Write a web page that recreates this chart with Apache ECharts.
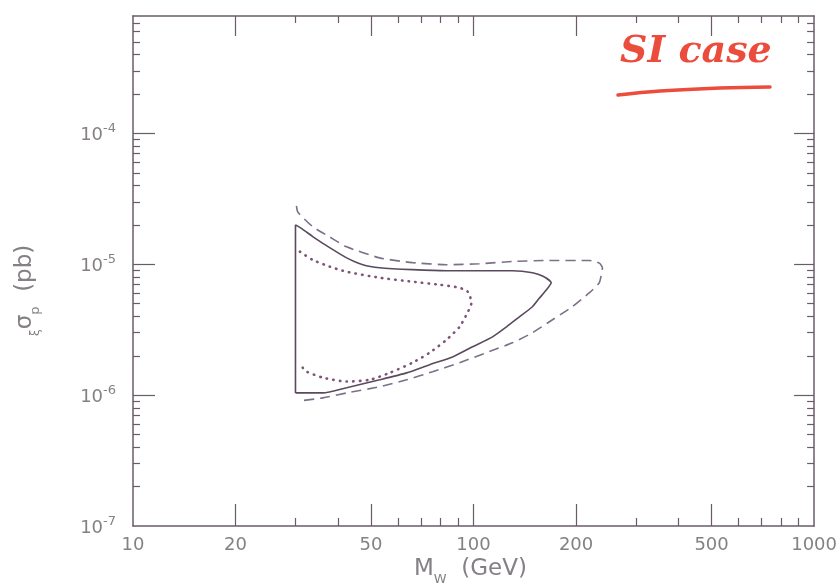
<!DOCTYPE html>
<html>
<head>
<meta charset="utf-8">
<script src="https://cdn.jsdelivr.net/npm/echarts@6/dist/echarts.min.js"></script>
<style>
  html, body { margin: 0; padding: 0; background: #fff; }
  #chart { width: 840px; height: 586px; }
</style>
</head>
<body>
<div id="chart"></div>
<script>
// tick positions
var xLabels = [10, 20, 50, 100, 200, 500, 1000];
var xMajor = [20, 50, 100, 200, 500];
var xMinor = [30, 40, 60, 70, 80, 90, 300, 400, 600, 700, 800, 900];
var yLabels = [1e-7, 1e-6, 1e-5, 1e-4];
var yMajor = [1e-6, 1e-5, 1e-4];
var yMinor = [2e-7, 3e-7, 4e-7, 5e-7, 6e-7, 7e-7, 8e-7, 9e-7,
              2e-6, 3e-6, 4e-6, 5e-6, 6e-6, 7e-6, 8e-6, 9e-6,
              2e-5, 3e-5, 4e-5, 5e-5, 6e-5, 7e-5, 8e-5, 9e-5,
              2e-4, 3e-4, 4e-4, 5e-4, 6e-4, 7e-4];

// contours  [M (GeV), sigma (pb)]
var solidCurve = [
    [30, 1.04e-6], [30, 2.0e-5], [31.5, 1.85e-5], [33.7, 1.63e-5], [37.8, 1.34e-5],
    [42.4, 1.12e-5], [47.3, 9.93e-6], [53, 9.42e-6], [66.2, 9.1e-6], [83.3, 8.93e-6],
    [104, 8.93e-6], [130, 8.93e-6], [149, 8.63e-6], [160, 8.1e-6], [169, 7.23e-6],
    [163.7, 6.39e-6], [156, 5.5e-6], [148.9, 4.74e-6], [136.4, 3.97e-6], [125, 3.33e-6],
    [113.7, 2.79e-6], [99.3, 2.34e-6], [86.8, 1.96e-6], [74.3, 1.71e-6], [63.6, 1.48e-6],
    [53, 1.31e-6], [42.4, 1.14e-6], [36.1, 1.04e-6], [30.9, 1.04e-6], [30, 1.04e-6]
];
var dashedCurve = [
    [30.2, 2.8e-5], [30.5, 2.5e-5], [33.7, 1.94e-5], [37.8, 1.62e-5], [42.4, 1.36e-5],
    [53, 1.12e-5], [66.2, 1.03e-5], [83.3, 9.93e-6], [104, 1.01e-5], [130, 1.05e-5],
    [164, 1.07e-5], [219, 1.07e-5], [234, 1.02e-5], [239, 9.42e-6], [237, 8.2e-6],
    [234, 7.23e-6], [219, 6.07e-6], [195, 4.74e-6], [170.5, 3.77e-6], [149, 3.0e-6],
    [130, 2.51e-6], [109, 2.11e-6], [91, 1.77e-6], [75.8, 1.51e-6], [63.6, 1.31e-6],
    [53, 1.16e-6], [42.4, 1.04e-6], [36.1, 9.53e-7], [30.9, 9.04e-7]
];
var dottedCurve = [
    [30.9, 1.25e-5], [33.7, 1.08e-5], [37.8, 9.6e-6], [42.4, 8.77e-6], [53, 7.89e-6],
    [66.2, 7.36e-6], [79.5, 6.98e-6], [91, 6.62e-6], [96, 6.2e-6], [97.3, 5.85e-6],
    [98.6, 5.08e-6], [96, 4.27e-6], [91, 3.33e-6], [83.3, 2.65e-6], [74.3, 2.11e-6],
    [66.2, 1.77e-6], [56.7, 1.48e-6], [49.5, 1.31e-6], [42.4, 1.27e-6], [36.1, 1.36e-6],
    [32.4, 1.51e-6], [31.5, 1.62e-6]
];

var axisColor = '#6b5b68';
var textColor = '#858085';
var fontFam = '"DejaVu Sans", sans-serif';

function supLabel(v) {
    var e = Math.round(Math.log(v) / Math.LN10);
    return '{b|10}{s|' + e + '}';
}

// one axis per tick set, so major and minor ticks get different lengths
function xAx(pos, ticks, len, showLine, labels) {
    return {
        type: 'log', logBase: 10, min: 10, max: 1000, position: pos,
        gridIndex: 0,
        axisLine: { show: showLine, onZero: false, lineStyle: { color: axisColor, width: 1.5 } },
        axisTick: { show: true, inside: true, length: len, customValues: ticks,
                    lineStyle: { color: axisColor, width: 1.2 } },
        axisLabel: labels ? {
            show: true, customValues: labels, margin: 10,
            formatter: function (v) { return String(Math.round(v)); },
            color: textColor, fontSize: 18, fontFamily: fontFam
        } : { show: false },
        splitLine: { show: false }, minorTick: { show: false }
    };
}
function yAx(pos, ticks, len, showLine, labels) {
    return {
        type: 'log', logBase: 10, min: 1e-7, max: 7.9e-4, position: pos,
        gridIndex: 0,
        axisLine: { show: showLine, onZero: false, lineStyle: { color: axisColor, width: 1.5 } },
        axisTick: { show: true, inside: true, length: len, customValues: ticks,
                    lineStyle: { color: axisColor, width: 1.2 } },
        axisLabel: labels ? {
            show: true, customValues: labels, margin: 17,
            formatter: supLabel,
            rich: {
                b: { color: textColor, fontSize: 18, fontFamily: fontFam, lineHeight: 22, verticalAlign: 'bottom' },
                s: { color: textColor, fontSize: 13, fontFamily: fontFam, lineHeight: 22, verticalAlign: 'top' }
            }
        } : { show: false },
        splitLine: { show: false }, minorTick: { show: false }
    };
}

var chart = echarts.init(document.getElementById('chart'), null, { renderer: 'canvas' });

var option = {
    backgroundColor: '#ffffff',
    animation: false,
    grid: { left: 133, right: 25, top: 16, bottom: 60, containLabel: false },
    xAxis: [
        xAx('bottom', xMajor, 22, true, xLabels),
        xAx('bottom', xMinor, 8, false, null),
        xAx('top', xMajor, 20, true, null),
        xAx('top', xMinor, 7, false, null)
    ],
    yAxis: [
        yAx('left', yMajor, 22, true, yLabels),
        yAx('left', yMinor, 7, false, null),
        yAx('right', yMajor, 20, true, null),
        yAx('right', yMinor, 7, false, null)
    ],
    graphic: [
        {
            type: 'text', left: 414, top: 558,
            style: {
                text: '{m|M}{w|W}{m|  (GeV)}',
                rich: {
                    m: { fontSize: 23, fontFamily: fontFam, fill: textColor, lineHeight: 28, verticalAlign: 'top' },
                    w: { fontSize: 13, fontFamily: fontFam, fill: textColor, lineHeight: 28, verticalAlign: 'bottom' }
                }
            }
        },
        {
            type: 'text', x: 14, y: 336, rotation: Math.PI / 2,
            style: {
                text: '{x|ξ}{g|σ}{p|p}{g|  (pb)}',
                rich: {
                    x: { fontSize: 12, fontFamily: fontFam, fill: textColor, lineHeight: 28, verticalAlign: 'bottom' },
                    g: { fontSize: 23, fontFamily: fontFam, fill: textColor, lineHeight: 28, verticalAlign: 'top' },
                    p: { fontSize: 13, fontFamily: fontFam, fill: textColor, lineHeight: 28, verticalAlign: 'bottom' }
                }
            }
        },
        {
            type: 'text', left: 620, top: 33,
            style: {
                text: 'SI case',
                font: 'italic bold 38px "DejaVu Serif", serif',
                fill: '#ec4c3c'
            }
        },
        {
            type: 'polyline',
            shape: { points: [[618, 95], [660, 91], [720, 88], [770, 87]], smooth: 0.4 },
            style: { stroke: '#ec4c3c', lineWidth: 3.5, lineCap: 'round', fill: null }
        }
    ],
    series: [
        {
            name: 'solid', type: 'line', xAxisIndex: 0, yAxisIndex: 0,
            data: solidCurve, showSymbol: false, smooth: 0.2,
            lineStyle: { color: '#5b4a5e', width: 1.6 }
        },
        {
            name: 'dashed', type: 'line', xAxisIndex: 0, yAxisIndex: 0,
            data: dashedCurve, showSymbol: false, smooth: 0.2,
            lineStyle: { color: '#7d6f88', width: 1.6, type: [10, 6] }
        },
        {
            name: 'dotted', type: 'line', xAxisIndex: 0, yAxisIndex: 0,
            data: dottedCurve, showSymbol: false, smooth: 0.2,
            lineStyle: { color: '#7e5378', width: 2.6, type: [0.5, 6.2], cap: 'round' }
        }
    ]
};

chart.setOption(option);
</script>
</body>
</html>
